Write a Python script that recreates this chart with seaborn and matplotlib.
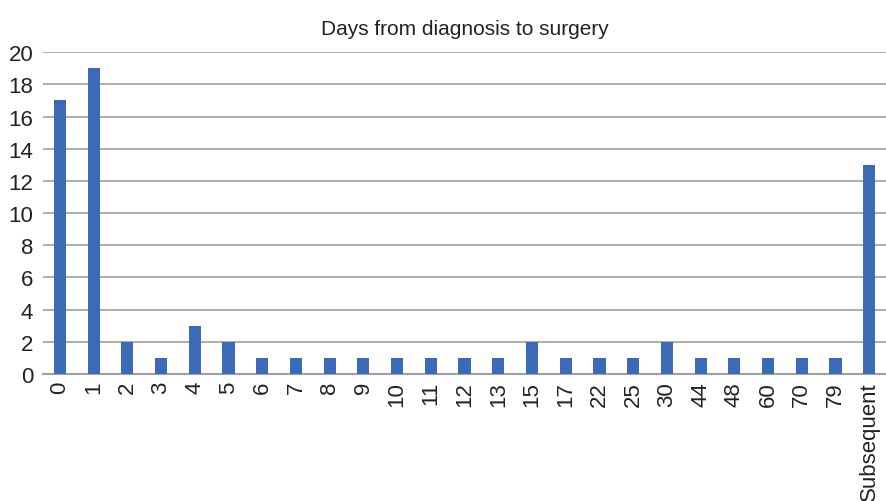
import pandas as pd
import seaborn as sns
import matplotlib.pyplot as plt

categories = ["0", "1", "2", "3", "4", "5", "6", "7", "8", "9", "10", "11", "12",
              "13", "15", "17", "22", "25", "30", "44", "48", "60", "70", "79",
              "Subsequent"]
counts = [17, 19, 2, 1, 3, 2, 1, 1, 1, 1, 1, 1, 1,
          1, 2, 1, 1, 1, 2, 1, 1, 1, 1, 1,
          13]

df = pd.DataFrame({"days": categories, "count": counts})

sns.set_theme(style="white")
plt.rcParams["font.family"] = ["Liberation Sans", "DejaVu Sans"]

fig = plt.figure(figsize=(8.87, 5.02), dpi=100)
ax = fig.add_axes([0.0485, 0.253, 0.9505, 0.641])

sns.barplot(data=df, x="days", y="count", color="#3b6ab6", saturation=1,
            width=0.36, linewidth=0, ax=ax, zorder=3)

ax.set_ylim(0, 20)
ax.set_yticks(range(0, 21, 2))
ax.set_xlim(-0.5, len(categories) - 0.5)
ax.yaxis.grid(True, color="#a0a0a0", linewidth=1.2, zorder=0)
ax.set_axisbelow(True)
for side in ["top", "right", "left"]:
    ax.spines[side].set_visible(False)
ax.spines["bottom"].set_color("#a0a0a0")
ax.spines["bottom"].set_linewidth(1.5)

ax.set_xlabel("")
ax.set_ylabel("")
ax.tick_params(axis="x", labelrotation=90, labelsize=16, colors="#222222", length=0, pad=5)
ax.tick_params(axis="y", labelsize=16, colors="#222222", length=0, pad=7)
ax.set_title("Days from diagnosis to surgery", fontsize=15, color="#222222", pad=13)

fig.savefig("out.png", dpi=100)
